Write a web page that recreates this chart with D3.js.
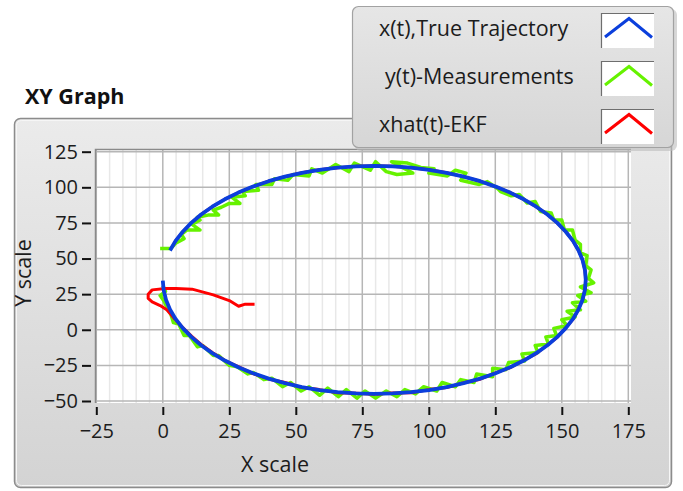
<!DOCTYPE html>
<html lang="en">
    <head>
        <meta charset="utf-8">
        <title>XY Graph</title>
        <script type="text/javascript" src="https://cdnjs.cloudflare.com/ajax/libs/d3/7.8.5/d3.min.js"></script>
        <style type="text/css">
            body { margin: 0; background: #ffffff; }
            text { font-family: "Open Sans", "DejaVu Sans", sans-serif; }
        </style>
    </head>
    <body>
        <script type="text/javascript">
            var w = 683;
            var h = 491;

            // tick labels
            var xTicks = [-25, 0, 25, 50, 75, 100, 125, 150, 175];
            var yTicks = [-50, -25, 0, 25, 50, 75, 100, 125];

            // legend
            var seriesNames = ["x(t),True Trajectory", "y(t)-Measurements", "xhat(t)-EKF"];
            var seriesColors = ["#0b3fdc", "#66f200", "#ff0000"];

            // x(t), true trajectory
            var trueX = [2.7, 4.8, 7.5, 10.7, 14.4, 18.6, 23.3, 28.4, 33.9, 39.8, 45.9, 52.3, 58.9, 65.7, 72.6,
                         79.5, 86.4, 93.3, 100.1, 106.7, 113.1, 119.3, 125.1, 130.6, 135.7, 140.4, 144.6, 148.3,
                         151.5, 154.2, 156.3, 157.8, 158.7, 159, 158.7, 157.8, 156.3, 154.2, 151.5, 148.3, 144.6,
                         140.4, 135.7, 130.6, 125.1, 119.3, 113.1, 106.7, 100.1, 93.3, 86.4, 79.5, 72.6, 65.7,
                         58.9, 52.3, 45.9, 39.8, 33.9, 28.4, 23.3, 18.6, 14.4, 10.7, 7.5, 4.8, 2.7, 1.2, 0.3, 0];
            var trueY = [55.7, 62.4, 68.8, 75, 80.9, 86.4, 91.6, 96.3, 100.5, 104.3, 107.5, 110.2, 112.3, 113.8, 114.7,
                         115, 114.7, 113.8, 112.3, 110.2, 107.5, 104.3, 100.5, 96.3, 91.6, 86.4, 80.9, 75,
                         68.8, 62.4, 55.7, 48.9, 42, 35, 28, 21.1, 14.3, 7.6, 1.2, -5, -10.9,
                         -16.4, -21.6, -26.3, -30.5, -34.3, -37.5, -40.2, -42.3, -43.8, -44.7, -45, -44.7, -43.8,
                         -42.3, -40.2, -37.5, -34.3, -30.5, -26.3, -21.6, -16.4, -10.9, -5, 1.2, 7.6, 14.3, 21.1, 28, 34.5];

            // y(t), measurements
            var measX = [-1, 3, 5, 8, 7, 9, 14, 11, 14, 13, 17, 21, 19, 22, 25, 29, 26, 31, 30, 36,
                         35, 41, 42, 47, 49, 55, 56, 60, 65, 70, 72, 78, 80, 84, 88, 94, 90, 86, 92, 97,
                         102, 100, 107, 110, 114, 112, 119, 122, 126, 127, 131, 134, 137, 140, 142, 146, 147, 150, 151, 154,
                         155, 157, 157, 159.5, 159, 161, 160, 162, 157, 161, 156, 159, 154, 157, 152, 155, 150, 152, 147, 148,
                         144, 145, 140, 141, 135, 136, 130, 129, 124, 124, 118, 117, 112, 110, 105, 103, 98, 95, 91, 88,
                         84, 80, 76, 73, 69, 66, 62, 59, 55, 52, 48, 45, 41, 38, 34, 32, 28, 25, 21, 19,
                         15, 13, 10, 8, 6, 4, 3, 1.5, 0.5, -1, 1, 0];
            var measY = [57, 57, 61, 64, 67, 70, 70, 74, 77, 79, 80.5, 80.5, 84, 86, 88.7, 88.7, 93, 94, 97, 98,
                         102, 102, 106, 105, 109, 108, 113, 110, 116, 111, 117, 112, 118, 111, 109, 110, 114, 118, 117, 114,
                         113, 110, 108, 112, 110, 105, 102, 104, 99, 97, 94, 95, 89, 90, 83, 82, 77, 77, 70, 70,
                         63, 60, 54, 52, 45, 42, 36, 33, 30, 26, 24, 20, 19, 14, 13, 9, 7, 3, 1, -4,
                         -5, -10, -11, -16, -17, -22, -23, -28, -27, -33, -31, -37, -35, -40, -37, -43, -40, -45, -42, -47,
                         -43, -48, -43, -48, -42, -47, -41, -46, -40, -43, -37, -40, -34, -35, -30, -31, -26, -25, -18, -18,
                         -11, -12, -4, -4, 4, 5, 11, 16, 20, 24, 27, 31];

            // xhat(t), EKF estimate
            var ekfX = [34.5, 31, 28.5, 25, 19, 11, 5, 1, -4, -5.5, -5.5, -4, -1, 1.5, 4.5, 7.5, 10.8, 14.5, 18.6, 23.5,
                        28.6, 33.9, 39.8, 45.9, 52.3, 58.9, 65.7, 72.6, 79.5, 86.4, 93.3, 100.1, 106.7, 113.1, 119.3, 125.1,
                        130.6, 135.7, 140.4, 144.6, 148.3, 151.5, 154.2, 156.3, 157.8, 158.7, 159, 158.7, 157.8, 156.3, 154.2,
                        151.5, 148.3, 144.6, 140.4, 135.7, 130.6, 125.1, 119.3, 113.1, 106.7, 100.1, 93.3, 86.4, 79.5, 72.6,
                        65.7, 58.9, 52.3, 45.9, 39.8, 33.9, 28.4, 23.3, 18.6, 14.4, 10.7, 7.5, 4.8, 3.5];
            var ekfY = [18, 18, 16.5, 20.5, 24.5, 28.5, 29, 29, 28, 25, 22, 19.5, 17, 14, 7.5, 1.5, -4.5, -10.5, -16, -21.8,
                        -26, -30.8, -34.5, -37, -40.5, -42, -44.2, -44.5, -45.3, -44.4, -44.2, -42, -40.6, -37.2, -34.7, -30.2,
                        -26.6, -21.3, -16.7, -10.6, -5.3, 1.5, 7.3, 14.6, 21, 28.3, 35, 42, 49, 55.7, 62.4,
                        68.8, 75, 80.9, 86.4, 91.6, 96.3, 100.5, 104.3, 107.5, 110.2, 112.3, 113.8, 114.7, 115, 114.7,
                        113.8, 112.3, 110.2, 107.5, 104.3, 100.5, 96.3, 91.6, 86.4, 80.9, 75, 68.8, 62.4, 58];

            var svg = d3.select("body")
                        .append("svg")
                        .attr("width", w)
                        .attr("height", h);

            var defs = svg.append("defs");
            var grad = defs.append("linearGradient")
                           .attr("id", "panelGrad")
                           .attr("x1", 0).attr("y1", 0).attr("x2", 0).attr("y2", 1);
            grad.append("stop").attr("offset", "0%").attr("stop-color", "#ebebeb");
            grad.append("stop").attr("offset", "100%").attr("stop-color", "#d3d3d3");

            var lgrad = defs.append("linearGradient")
                            .attr("id", "legendGrad")
                            .attr("x1", 0).attr("y1", 0).attr("x2", 0).attr("y2", 1);
            lgrad.append("stop").attr("offset", "0%").attr("stop-color", "#e6e6e6");
            lgrad.append("stop").attr("offset", "100%").attr("stop-color", "#d6d6d6");

            // title
            svg.append("text")
               .attr("x", 25)
               .attr("y", 104)
               .attr("font-size", "21.5px")
               .attr("font-weight", "bold")
               .attr("fill", "#111")
               .text("XY Graph");

            // panel
            svg.append("rect")
               .attr("x", 14.5)
               .attr("y", 118.5)
               .attr("width", 657)
               .attr("height", 369)
               .attr("rx", 6)
               .attr("fill", "url(#panelGrad)")
               .attr("stroke", "#8c8c8c")
               .attr("stroke-width", 1.5);
            svg.append("rect")
               .attr("x", 16.5)
               .attr("y", 120.5)
               .attr("width", 653)
               .attr("height", 365)
               .attr("rx", 5)
               .attr("fill", "none")
               .attr("stroke", "#f6f6f6")
               .attr("stroke-width", 1);

            var x = d3.scaleLinear().domain([-25, 175]).range([96.3, 628.3]);
            var y = d3.scaleLinear().domain([-50, 125]).range([401, 151.7]);

            // plot area
            svg.append("rect")
               .attr("x", 95)
               .attr("y", 149)
               .attr("width", 536)
               .attr("height", 254)
               .attr("fill", "#ffffff");

            var minor = d3.range(-25, 176, 5).filter(function (d) { return d % 25 != 0; });
            svg.append("g")
               .selectAll("line")
               .data(minor)
               .enter()
               .append("line")
               .attr("x1", function (d) { return x(d); })
               .attr("x2", function (d) { return x(d); })
               .attr("y1", 149)
               .attr("y2", 403)
               .attr("stroke", "#e8e8e8")
               .attr("stroke-width", 1.5);

            svg.append("g")
               .selectAll("line")
               .data(xTicks)
               .enter()
               .append("line")
               .attr("x1", function (d) { return x(d); })
               .attr("x2", function (d) { return x(d); })
               .attr("y1", 149)
               .attr("y2", 403)
               .attr("stroke", "#b6b6b6")
               .attr("stroke-width", 1.5);

            svg.append("g")
               .selectAll("line")
               .data(yTicks)
               .enter()
               .append("line")
               .attr("x1", 95)
               .attr("x2", 631)
               .attr("y1", function (d) { return y(d); })
               .attr("y2", function (d) { return y(d); })
               .attr("stroke", "#b6b6b6")
               .attr("stroke-width", 1.5);

            // frame edges of plot area
            svg.append("path")
               .attr("d", "M95.5,403 L95.5,149.5 L631,149.5")
               .attr("fill", "none")
               .attr("stroke", "#8a8a8a")
               .attr("stroke-width", 1.5);

            // series
            var line = d3.line()
                         .x(function (d) { return x(d[0]); })
                         .y(function (d) { return y(d[1]); });

            var meas = d3.zip(measX, measY);
            var ekf = d3.zip(ekfX, ekfY);
            var truth = d3.zip(trueX, trueY);

            svg.append("path")
               .attr("d", line(meas))
               .attr("fill", "none")
               .attr("stroke", seriesColors[1])
               .attr("stroke-width", 3.5)
               .attr("stroke-linejoin", "round");

            svg.append("path")
               .attr("d", line(ekf))
               .attr("fill", "none")
               .attr("stroke", seriesColors[2])
               .attr("stroke-width", 3)
               .attr("stroke-linejoin", "round");

            svg.append("path")
               .attr("d", line(truth))
               .attr("fill", "none")
               .attr("stroke", seriesColors[0])
               .attr("stroke-width", 3.8)
               .attr("stroke-linejoin", "round");

            // axes
            var yAxis = d3.axisLeft(y).tickValues(yTicks).tickSize(9).tickPadding(4);
            var gy = svg.append("g")
                        .attr("transform", "translate(91,0)")
                        .call(yAxis);
            var xAxis = d3.axisBottom(x).tickValues(xTicks).tickSize(8).tickPadding(9);
            var gx = svg.append("g")
                        .attr("transform", "translate(0,407)")
                        .call(xAxis);
            [gx, gy].forEach(function (g) {
                g.select(".domain").remove();
                g.selectAll(".tick line").attr("stroke", "#111").attr("stroke-width", 2);
                g.selectAll(".tick text")
                 .attr("font-family", "'Open Sans', sans-serif")
                 .attr("font-size", "20px")
                 .attr("fill", "#1c1c1c");
            });

            svg.append("text")
               .attr("x", 275)
               .attr("y", 472)
               .attr("text-anchor", "middle")
               .attr("font-size", "21.5px")
               .attr("fill", "#1c1c1c")
               .text("X scale");

            svg.append("text")
               .attr("transform", "translate(31,273) rotate(-90)")
               .attr("text-anchor", "middle")
               .attr("font-size", "21.5px")
               .attr("fill", "#1c1c1c")
               .text("Y scale");

            // legend
            svg.append("rect")
               .attr("x", 355)
               .attr("y", 9)
               .attr("width", 322)
               .attr("height", 142)
               .attr("rx", 6)
               .attr("fill", "#bdbdbd")
               .attr("opacity", 0.6);
            svg.append("rect")
               .attr("x", 352.5)
               .attr("y", 6.5)
               .attr("width", 321)
               .attr("height", 141)
               .attr("rx", 6)
               .attr("fill", "url(#legendGrad)")
               .attr("stroke", "#a2a2a2")
               .attr("stroke-width", 1.2);

            var items = svg.selectAll("g.item")
                           .data(seriesNames)
                           .enter()
                           .append("g")
                           .attr("class", "item")
                           .attr("transform", function (d, i) {
                               return "translate(0," + (48 * i) + ")";
                           });

            items.append("text")
                 .attr("x", function (d, i) { return i == 1 ? 385 : 379; })
                 .attr("y", 36)
                 .attr("font-size", "21.5px")
                 .attr("fill", "#1c1c1c")
                 .text(function (d) { return d; });

            items.append("rect")
                 .attr("x", 601)
                 .attr("y", 13)
                 .attr("width", 53)
                 .attr("height", 35)
                 .attr("fill", "#ffffff");
            items.append("path")
                 .attr("d", "M601.5,48 L601.5,13.5 L654,13.5")
                 .attr("fill", "none")
                 .attr("stroke", "#6e6e6e")
                 .attr("stroke-width", 1.2);

            items.append("path")
                 .attr("d", "M605,37 L629,18.5 L652,37.5")
                 .attr("fill", "none")
                 .attr("stroke", function (d, i) { return seriesColors[i]; })
                 .attr("stroke-width", 3);
        </script>
    </body>
</html>
